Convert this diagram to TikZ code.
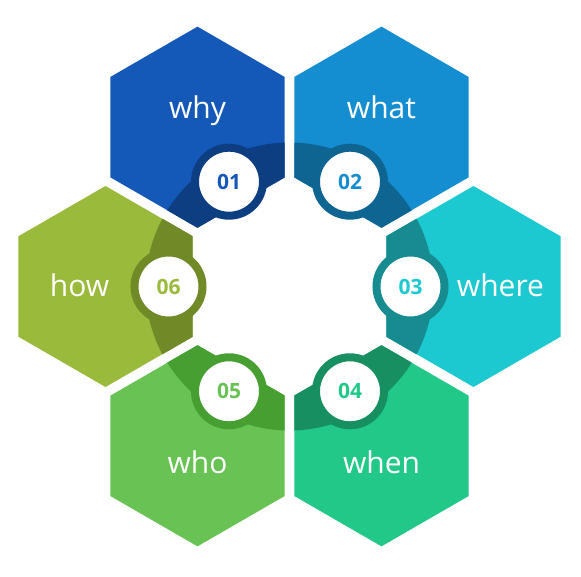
\documentclass[tikz,border=0pt]{standalone}
\usepackage{fontspec}
\setmainfont{Open Sans}
\usetikzlibrary{shapes.geometric}

\definecolor{whyC}{HTML}{1458B8}
\definecolor{whyD}{HTML}{0E3E82}
\definecolor{whatC}{HTML}{148ED0}
\definecolor{whatD}{HTML}{0F6592}
\definecolor{whereC}{HTML}{1DC9D1}
\definecolor{whereD}{HTML}{168C91}
\definecolor{whenC}{HTML}{21C887}
\definecolor{whenD}{HTML}{178F60}
\definecolor{whoC}{HTML}{68C254}
\definecolor{whoD}{HTML}{479F31}
\definecolor{howC}{HTML}{9ABA3B}
\definecolor{howD}{HTML}{6F8A27}

\begin{document}
\begin{tikzpicture}[
        hexa/.style={regular polygon, regular polygon sides=6, shape border rotate=30, minimum size=201pt, inner sep=0pt},
        num/.style={circle, fill=white, line width=8pt, minimum size=68pt, inner sep=0pt, font=\fontsize{21}{24}\selectfont\bfseries},
        lbl/.style={text=white, inner sep=0pt, anchor=base, font=\fontsize{30}{36}\selectfont}
      ]
        \useasboundingbox (-289.5pt,-290.5pt) rectangle (291.5pt,286.5pt);
        \coordinate (c) at (0,0);
        % hexagons
        \node[hexa, fill=whyC] (h1) at (120:184pt) {};
        \node[hexa, fill=whatC] (h2) at (60:184pt) {};
        \node[hexa, fill=whereC] (h3) at (0:184pt) {};
        \node[hexa, fill=whenC] (h4) at (-60:184pt) {};
        \node[hexa, fill=whoC] (h5) at (-120:184pt) {};
        \node[hexa, fill=howC] (h6) at (180:184pt) {};
        % dark ring inside each hexagon
        \begin{scope}
          \clip (h1.corner 1) -- (h1.corner 2) -- (h1.corner 3) -- (h1.corner 4) -- (h1.corner 5) -- (h1.corner 6) -- cycle;
          \fill[whyD] (c) circle (144pt);
        \end{scope}
        \begin{scope}
          \clip (h2.corner 1) -- (h2.corner 2) -- (h2.corner 3) -- (h2.corner 4) -- (h2.corner 5) -- (h2.corner 6) -- cycle;
          \fill[whatD] (c) circle (144pt);
        \end{scope}
        \begin{scope}
          \clip (h3.corner 1) -- (h3.corner 2) -- (h3.corner 3) -- (h3.corner 4) -- (h3.corner 5) -- (h3.corner 6) -- cycle;
          \fill[whereD] (c) circle (144pt);
        \end{scope}
        \begin{scope}
          \clip (h4.corner 1) -- (h4.corner 2) -- (h4.corner 3) -- (h4.corner 4) -- (h4.corner 5) -- (h4.corner 6) -- cycle;
          \fill[whenD] (c) circle (144pt);
        \end{scope}
        \begin{scope}
          \clip (h5.corner 1) -- (h5.corner 2) -- (h5.corner 3) -- (h5.corner 4) -- (h5.corner 5) -- (h5.corner 6) -- cycle;
          \fill[whoD] (c) circle (144pt);
        \end{scope}
        \begin{scope}
          \clip (h6.corner 1) -- (h6.corner 2) -- (h6.corner 3) -- (h6.corner 4) -- (h6.corner 5) -- (h6.corner 6) -- cycle;
          \fill[howD] (c) circle (144pt);
        \end{scope}
        % numbers
        \node[num, draw=whyD, text=whyC] (n1) at (120:121pt) {01};
        \node[num, draw=whatD, text=whatC] (n2) at (60:121pt) {02};
        \node[num, draw=whereD, text=whereC] (n3) at (0:121pt) {03};
        \node[num, draw=whenD, text=whenC] (n4) at (-60:121pt) {04};
        \node[num, draw=whoD, text=whoC] (n5) at (-120:121pt) {05};
        \node[num, draw=howD, text=howC] (n6) at (180:121pt) {06};
        % labels
        \node[lbl] (l1) at ([yshift=8.5pt]h1.center) {why};
        \node[lbl] (l2) at ([yshift=8.5pt]h2.center) {what};
        \node[lbl] (l3) at ([xshift=27pt,yshift=-10.5pt]h3.center) {where};
        \node[lbl] (l4) at ([yshift=-27.5pt]h4.center) {when};
        \node[lbl] (l5) at ([yshift=-27.5pt]h5.center) {who};
        \node[lbl] (l6) at ([xshift=-26pt,yshift=-10.5pt]h6.center) {how};
      \end{tikzpicture}
\end{document}
